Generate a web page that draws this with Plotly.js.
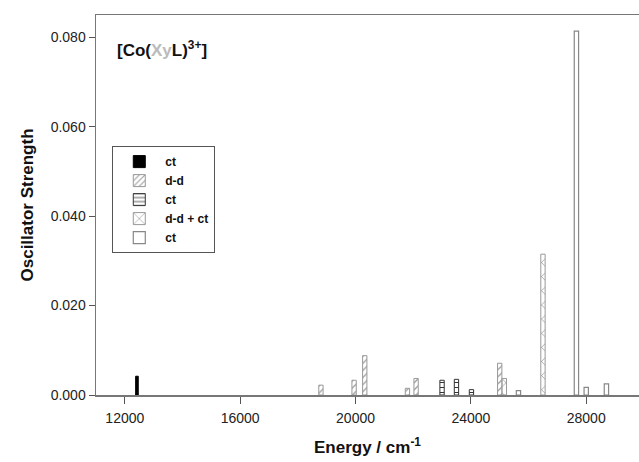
<!DOCTYPE html>
<html>
<head>
<meta charset="utf-8">
<script src="https://cdn.plot.ly/plotly-3.0.1.min.js"></script>
<style>html,body{margin:0;padding:0;background:#fff;}#chart{width:639px;height:462px;}</style>
</head>
<body>
<div id="chart"></div>
<script>
// Data (energy in cm^-1, oscillator strength)
var ctSolidE = [12420];
var ctSolidF = [0.0042];
var ddE = [18800, 19950, 20320, 21800, 22100, 25000];
var ddF = [0.0022, 0.0033, 0.0088, 0.0015, 0.0037, 0.0071];
var ctHorizE = [23000, 23500, 24020];
var ctHorizF = [0.0033, 0.0035, 0.0012];
var ddctE = [25160, 26500];
var ddctF = [0.0037, 0.0315];
var ctOpenE = [25650, 27660, 28000, 28700];
var ctOpenF = [0.0010, 0.0814, 0.0017, 0.0025];
var legendNames = ["ct", "d-d", "ct", "d-d + ct", "ct"];
var xTicks = [12000, 16000, 20000, 24000, 28000];
var yTicks = [0, 0.02, 0.04, 0.06, 0.08];

var W = 150;
function widths(arr, w) { return arr.map(function () { return w; }); }

var traces = [
  {type: 'bar', x: ctSolidE, y: ctSolidF, width: widths(ctSolidE, 90), name: legendNames[0],
   marker: {color: '#000', line: {color: '#000', width: 1}}},
  {type: 'bar', x: ddE, y: ddF, width: widths(ddE, W), name: legendNames[1],
   marker: {color: '#fff', line: {color: '#999', width: 1},
            pattern: {shape: '/', fgcolor: '#999', bgcolor: '#fff', size: 5, solidity: 0.25}}},
  {type: 'bar', x: ctHorizE, y: ctHorizF, width: widths(ctHorizE, W), name: legendNames[2],
   marker: {color: '#fff', line: {color: '#333', width: 1},
            pattern: {shape: '-', fgcolor: '#333', bgcolor: '#fff', size: 5, solidity: 0.2}}},
  {type: 'bar', x: ddctE, y: ddctF, width: widths(ddctE, W), name: legendNames[3],
   marker: {color: '#fff', line: {color: '#999', width: 1},
            pattern: {shape: 'x', fgcolor: '#999', bgcolor: '#fff', size: 10, solidity: 0.15}}},
  {type: 'bar', x: ctOpenE, y: ctOpenF, width: widths(ctOpenE, W), name: legendNames[4],
   marker: {color: '#fff', line: {color: '#888', width: 1.2}}}
];

var font = 'Arial, "Liberation Sans", sans-serif';
var layout = {
  width: 639, height: 462,
  margin: {l: 96, r: 0, t: 15, b: 67},
  paper_bgcolor: '#fff', plot_bgcolor: '#fff',
  barmode: 'overlay',
  font: {family: font, size: 14, color: '#222'},
  showlegend: true,
  legend: {x: 0.03, y: 0.655, xanchor: 'left', yanchor: 'top',
           bgcolor: '#fff', bordercolor: '#555', borderwidth: 1,
           font: {family: font, size: 12, color: '#111', weight: 'bold'},
           tracegroupgap: 0, itemwidth: 42},
  xaxis: {range: [11000, 29830], tickvals: xTicks, ticktext: xTicks.map(String),
          showgrid: false, zeroline: false, showline: true, linecolor: '#777', linewidth: 1.5,
          mirror: true, ticks: 'outside', ticklen: 7, tickcolor: '#555',
          ticklabelstandoff: 3,
          tickfont: {family: font, size: 14, color: '#222'},
          title: {text: 'Energy / cm<sup>-1</sup>', standoff: 16,
                  font: {family: font, size: 17, color: '#111', weight: 'bold'}}},
  yaxis: {range: [0, 0.085], tickvals: yTicks, tickformat: '.3f',
          showgrid: false, zeroline: false, showline: true, linecolor: '#777', linewidth: 1.5,
          mirror: false, ticks: 'outside', ticklen: 6, tickcolor: '#555',
          tickfont: {family: font, size: 14, color: '#222'},
          title: {text: 'Oscillator Strength', standoff: 12,
                  font: {family: font, size: 17, color: '#111', weight: 'bold'}}},
  annotations: [{
    xref: 'paper', yref: 'paper', x: 0.035, y: 0.91, xanchor: 'left', yanchor: 'middle',
    showarrow: false,
    text: '<b>[Co(<span style="color:#bbb">Xy</span>L)<sup>3+</sup>]</b>',
    font: {family: font, size: 17, color: '#111'}
  }]
};

Plotly.newPlot('chart', traces, layout, {displayModeBar: false, staticPlot: true});
</script>
</body>
</html>
